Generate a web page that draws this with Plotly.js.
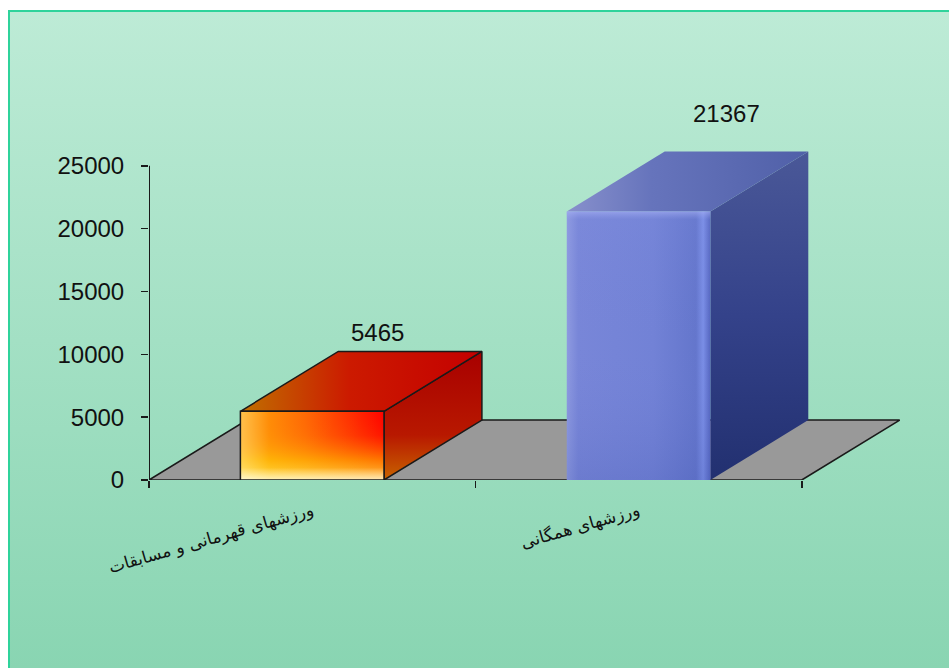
<!DOCTYPE html>
<html><head><meta charset="utf-8">
<script src="https://cdn.plot.ly/plotly-3.0.1.min.js"></script>
<style>
html,body{margin:0;padding:0;background:#ffffff;width:949px;height:668px;overflow:hidden;}
#frame{position:absolute;left:8px;top:10px;width:960px;height:680px;border-left:2px solid #2fd39b;border-top:2px solid #2fd39b;background:linear-gradient(to bottom,#bdebd6 0px,#89d5b2 656px);}
#chart{position:absolute;left:0;top:0;width:949px;height:668px;}
</style></head><body>
<div id="frame"></div><div id="chart"></div>
<script>
// ---- data ----
const categories = ['ورزشهای قهرمانی و مسابقات', 'ورزشهای همگانی'];
const values = [5465, 21367];
const valueLabels = ['5465', '21367'];
const yTickValues = [0, 5000, 10000, 15000, 20000, 25000];
const yTickLabels = ['0', '5000', '10000', '15000', '20000', '25000'];

// ---- style / geometry constants ----
const HALF = 0.22;        // half bar width (category units)
const DX = 0.30;          // depth offset in x (category units)
const DY = 4770;          // depth offset in y (value units)
const X_MIN = -0.5, X_MAX = categories.length - 0.5;
const labelNudge = [{dx: 0.20, dy: 6300}, {dx: 0.27, dy: 7830}];

const styles = [
  { // red bar
    side: {type:'vertical', colorscale:[[0,'#c86400'],[0.35,'#b81800'],[1,'#a80000']]},
    top: {type:'horizontal', colorscale:[[0,'#c07000'],[0.45,'#cc1a00'],[1,'#c40000']]},
    front: {type:'horizontal', colorscale:[[0,'#ffa800'],[0.45,'#ff6800'],[1,'#ff0400']]},
    overlays: [
      {type:'vertical', colorscale:[[0,'rgba(255,235,90,0.85)'],[0.3,'rgba(255,205,0,0.55)'],[0.65,'rgba(255,150,0,0.12)'],[1,'rgba(255,60,0,0)']]},
      {type:'horizontal', colorscale:[[0,'rgba(255,255,255,0.3)'],[0.2,'rgba(255,255,255,0.03)'],[1,'rgba(255,255,255,0)']]},
      {type:'vertical', colorscale:[[0,'rgba(255,255,255,0.6)'],[0.18,'rgba(255,255,255,0)'],[1,'rgba(255,255,255,0)']]}
    ],
    line: {color:'#1a1a1a', width:1.5}
  },
  { // blue bar
    side: {type:'vertical', colorscale:[[0,'#223070'],[0.5,'#34428a'],[1,'#4a5898']]},
    top: {type:'horizontal', colorscale:[[0,'#8890cc'],[0.35,'#6674bc'],[1,'#5060a8']]},
    front: {type:'horizontal', colorscale:[[0,'#8e9ae0'],[0.08,'#7886d8'],[0.6,'#7282d6'],[0.9,'#6476cc'],[0.95,'#7a8ee6'],[1,'#5566c0']]},
    overlays: [
      {type:'vertical', colorscale:[[0,'rgba(60,80,170,0.2)'],[0.5,'rgba(120,130,220,0)'],[0.97,'rgba(150,160,235,0.1)'],[1,'rgba(170,180,245,0.6)']]}
    ],
    line: {color:'rgba(0,0,0,0)', width:0}
  }
];

function poly(xs, ys, grad, line) {
  return {type:'scatter', mode:'lines', x:xs, y:ys, fill:'toself',
    fillgradient: grad, line: line || {width:0, color:'rgba(0,0,0,0)'},
    hoverinfo:'skip', showlegend:false, xaxis:'x', yaxis:'y'};
}

const traces = [];
// floor
traces.push({type:'scatter', mode:'lines',
  x:[X_MIN, X_MAX, X_MAX + DX, X_MIN + DX, X_MIN],
  y:[0, 0, DY, DY, 0], fill:'toself', fillcolor:'#999999',
  line:{color:'#1a1a1a', width:1.6}, hoverinfo:'skip', showlegend:false});

values.forEach((v, i) => {
  const s = styles[i];
  const x0 = i - HALF, x1 = i + HALF;
  const noLine = {width:0, color:'rgba(0,0,0,0)'};
  traces.push(poly([x1, x1 + DX, x1 + DX, x1, x1], [0, DY, v + DY, v, 0], s.side, s.line));
  traces.push(poly([x0, x1, x1 + DX, x0 + DX, x0], [v, v, v + DY, v + DY, v], s.top, s.line));
  traces.push(poly([x0, x1, x1, x0, x0], [0, 0, v, v, 0], s.front, noLine));
  s.overlays.forEach(g => traces.push(poly([x0, x1, x1, x0, x0], [0, 0, v, v, 0], g, noLine)));
  // outline of the front face on top of overlays
  traces.push({type:'scatter', mode:'lines', x:[x0, x1, x1, x0, x0], y:[0, 0, v, v, 0],
    line:s.line, hoverinfo:'skip', showlegend:false});
});

// dummy trace to activate xaxis2 for category labels
traces.push({type:'scatter', mode:'markers', x:[0, 1], y:[0, 0], xaxis:'x2', yaxis:'y',
  marker:{opacity:0}, hoverinfo:'skip', showlegend:false});

const annotations = values.map((v, i) => ({
  x: i + labelNudge[i].dx, y: v + labelNudge[i].dy, xref:'x', yref:'y',
  text: valueLabels[i], showarrow:false, xanchor:'center', yanchor:'middle',
  font:{family:'Arial, Liberation Sans, sans-serif', size:24, color:'#111111'}
}));

const layout = {
  width:949, height:668, autosize:false,
  margin:{l:149, r:33, t:103, b:188, pad:0},
  paper_bgcolor:'rgba(0,0,0,0)', plot_bgcolor:'rgba(0,0,0,0)',
  showlegend:false, hovermode:false,
  xaxis:{range:[X_MIN, X_MAX + 0.35], tickvals:[X_MIN, 0.5, X_MAX], showticklabels:false,
    ticks:'outside', ticklen:7, tickwidth:1.5, tickcolor:'#1a1a1a',
    showgrid:false, zeroline:false, showline:false, fixedrange:true},
  xaxis2:{overlaying:'x', anchor:'y', side:'bottom', range:[X_MIN, X_MAX + 0.35],
    tickvals:[0, 1], ticktext:categories, tickangle:-16, ticks:'', ticklabelstandoff:17,
    tickfont:{family:'DejaVu Sans, sans-serif', size:17, color:'#111111'},
    showgrid:false, zeroline:false, showline:false, fixedrange:true},
  yaxis:{range:[0, 30000], tickvals:yTickValues, ticktext:yTickLabels,
    ticks:'outside', ticklen:7, tickwidth:1.5, tickcolor:'#1a1a1a', ticklabelstandoff:12,
    tickfont:{family:'Arial, Liberation Sans, sans-serif', size:24, color:'#111111'},
    showgrid:false, zeroline:false, showline:false, fixedrange:true},
  shapes:[{type:'line', xref:'x', yref:'y', x0:X_MIN, x1:X_MIN, y0:0,
    y1:yTickValues[yTickValues.length - 1], line:{color:'#1a1a1a', width:2}}],
  annotations: annotations
};

Plotly.newPlot('chart', traces, layout, {displayModeBar:false, staticPlot:true});
</script>
</body></html>
